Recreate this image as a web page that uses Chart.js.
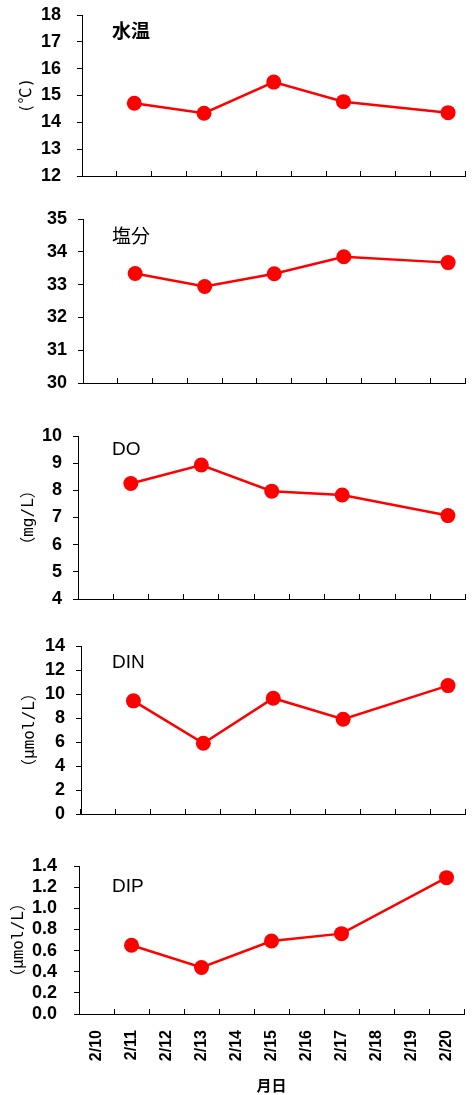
<!DOCTYPE html>
<html>
<head>
<meta charset="utf-8">
<script src="https://cdn.jsdelivr.net/npm/chart.js@4.4.0/dist/chart.umd.min.js"></script>
<style>
  html, body { margin: 0; padding: 0; background: #fff; overflow: hidden; }
  #wrap { position: relative; width: 473px; height: 1095px; }
  #wrap canvas { position: absolute; left: 0; }
</style>
</head>
<body>
<div id="wrap"></div>
<script>
// x categories (月日) and the days that were sampled
const days = ['2/10', '2/11', '2/12', '2/13', '2/14', '2/15', '2/16', '2/17', '2/18', '2/19', '2/20'];
const sampleDays = ['2/11', '2/13', '2/15', '2/17', '2/20'];

// values
const waterTemp = [14.71, 14.34, 15.50, 14.77, 14.36];  // ℃
const salinity  = [33.34, 32.94, 33.33, 33.85, 33.67];
const doValues  = [8.25, 8.93, 7.97, 7.83, 7.07];       // mg/L
const dinValues = [9.43, 5.90, 9.65, 7.90, 10.70];      // μmol/L
const dipValues = [0.65, 0.44, 0.69, 0.76, 1.29];       // μmol/L

const FONT = "'Liberation Sans', 'Noto Sans CJK JP', sans-serif";
const JFONT = "'Noto Sans CJK JP', 'Liberation Sans', sans-serif";
const MONO = "'DejaVu Sans Mono', 'Noto Sans CJK JP', monospace";
const RED = '#ff0000';
const M = 32; // room above / below each plot area inside its canvas

const panels = [
  { name: '水温', nameBold: true, unit: '(℃)', values: waterTemp,
    min: 12, max: 18, step: 1, dec: 0,
    area: { left: 82, right: 468, top: 15, bottom: 176 }, unitX: 27, tickPad: 16, nameDy: 18 },
  { name: '塩分', nameBold: false, unit: '', values: salinity,
    min: 30, max: 35, step: 1, dec: 0,
    area: { left: 83, right: 472, top: 219, bottom: 383 }, unitX: 24, tickPad: 11, nameDy: 19 },
  { name: 'DO', nameBold: false, unit: '（mg/L）', values: doValues,
    min: 4, max: 10, step: 1, dec: 0,
    area: { left: 78, right: 466, top: 436, bottom: 599 }, unitX: 29, tickPad: 11, nameDy: 14 },
  { name: 'DIN', nameBold: false, unit: '（μmol/L）', values: dinValues,
    min: 0, max: 14, step: 2, dec: 0,
    area: { left: 81, right: 467, top: 646, bottom: 814 }, unitX: 30, tickPad: 11, nameDy: 17 },
  { name: 'DIP', nameBold: false, unit: '（μmol/L）', values: dipValues,
    min: 0, max: 1.4, step: 0.2, dec: 1,
    area: { left: 79, right: 464, top: 866, bottom: 1014 }, unitX: 19, tickPad: 17, nameDy: 21, last: true }
];

const nameLabel = {
  id: 'nameLabel',
  afterDatasetsDraw(chart, args, opts) {
    const { ctx, chartArea } = chart;
    ctx.save();
    ctx.font = (opts.bold ? 'bold ' : '') + '19px ' + FONT;
    ctx.fillStyle = '#000';
    ctx.textBaseline = 'middle';
    ctx.textAlign = 'left';
    ctx.fillText(opts.text, 112, chartArea.top + opts.dy);
    ctx.restore();
  }
};

const wrap = document.getElementById('wrap');

panels.forEach(p => {
  const xHeight = p.last ? 1095 - p.area.bottom : M;
  const top = p.area.top - M;
  const height = p.area.bottom - p.area.top + M + xHeight;

  const canvas = document.createElement('canvas');
  canvas.style.top = top + 'px';
  canvas.style.width = '473px';
  canvas.style.height = height + 'px';
  canvas.width = 473;
  canvas.height = height;
  wrap.appendChild(canvas);

  const unitFont = { family: MONO, size: 16, lineHeight: 1.2 };

  new Chart(canvas, {
    type: 'line',
    data: {
      labels: days,
      datasets: [{
        data: sampleDays.map((d, i) => ({ x: d, y: p.values[i] })),
        borderColor: RED,
        backgroundColor: RED,
        borderWidth: 2.5,
        pointRadius: 7.5,
        pointBorderWidth: 0,
        pointBackgroundColor: RED,
        tension: 0
      }]
    },
    options: {
      responsive: false,
      animation: false,
      events: [],
      layout: { padding: { top: M, right: 473 - p.area.right, bottom: 0, left: 0 } },
      plugins: {
        legend: { display: false },
        tooltip: { enabled: false },
        nameLabel: { text: p.name, bold: p.nameBold, dy: p.nameDy }
      },
      scales: {
        x: {
          type: 'category',
          offset: true,
          grid: { offset: true, drawOnChartArea: false, tickLength: -5, color: '#000', lineWidth: 1 },
          border: { color: '#000', width: 1 },
          ticks: {
            display: !!p.last,
            autoSkip: false,
            minRotation: 90,
            maxRotation: 90,
            padding: 21,
            color: '#000',
            font: { family: FONT, size: 16, weight: 'bold', lineHeight: 0.2 }
          },
          title: {
            display: !!p.last,
            text: '月日',
            color: '#000',
            font: { family: JFONT, size: 15, weight: 'bold' },
            padding: { top: 0, bottom: 1 }
          },
          afterFit: s => { s.height = xHeight; }
        },
        y: {
          min: p.min,
          max: p.max,
          grid: { drawOnChartArea: false, tickLength: 5, color: '#000', lineWidth: 1 },
          border: { color: '#000', width: 1 },
          ticks: {
            stepSize: p.step,
            autoSkip: false,
            padding: p.tickPad,
            color: '#000',
            font: { family: FONT, size: 18, weight: 'bold' },
            callback: v => Number(v).toFixed(p.dec)
          },
          title: {
            display: !!p.unit,
            text: p.unit,
            color: '#000',
            font: unitFont,
            padding: { top: p.unitX - unitFont.size * 0.6, bottom: 0 }
          },
          afterFit: s => { s.width = p.area.left; }
        }
      }
    },
    plugins: [nameLabel]
  });
});
</script>
</body>
</html>
